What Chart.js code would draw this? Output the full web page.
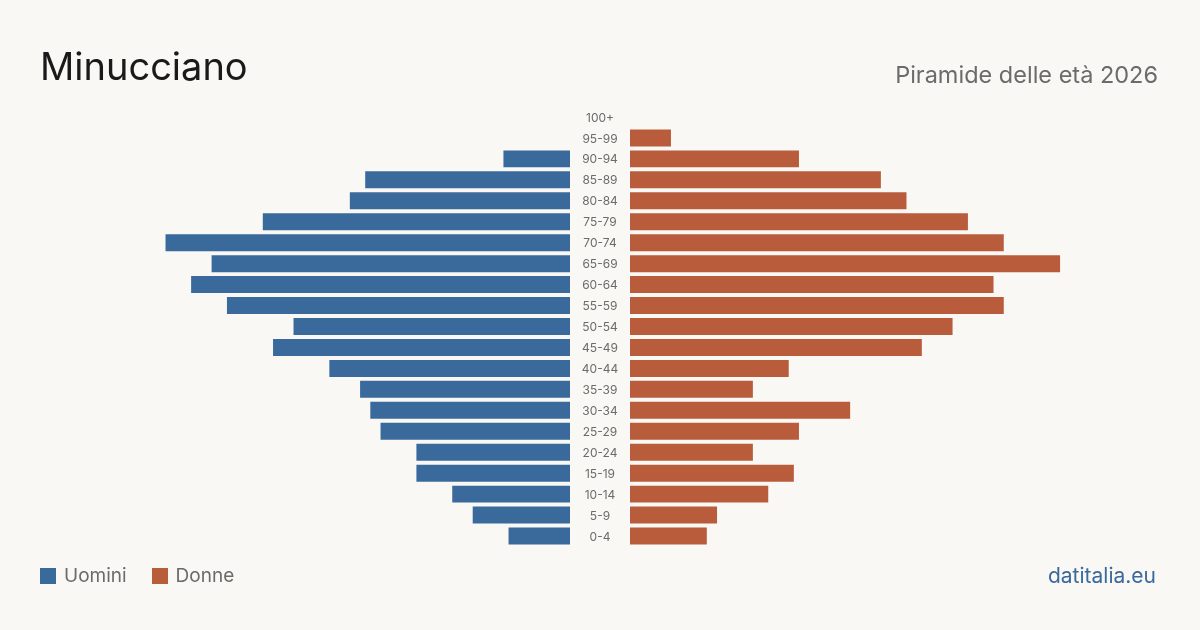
<!DOCTYPE html>
<html>
<head>
<meta charset="utf-8">
<script src="https://cdn.jsdelivr.net/npm/chart.js@4"></script>
<style>
  html, body { margin: 0; padding: 0; }
  body { width: 1200px; height: 630px; background: #f9f8f4; position: relative; overflow: hidden; font-family: Inter, "Noto Sans", sans-serif; }
  #chart { position: absolute; left: 0; top: 0; }
  .title { position: absolute; left: 40px; top: 41px; font-size: 38px; color: #1a1a1a; line-height: 50px; }
  .subtitle { position: absolute; right: 42px; top: 59px; font-size: 23.5px; color: #6b6b6b; line-height: 32px; }
  .legend { position: absolute; left: 40px; top: 562px; font-size: 19px; color: #6b6b6b; line-height: 28px; }
  .legend span.box { display: inline-block; width: 16px; height: 16px; vertical-align: -2px; margin-right: 8px; }
  .legend span.item { margin-right: 25px; }
  .source { position: absolute; right: 44px; top: 561px; font-size: 21px; color: #3a6a9c; line-height: 30px; }
</style>
</head>
<body>
<canvas id="chart" width="1200" height="630"></canvas>
<div class="title">Minucciano</div>
<div class="subtitle">Piramide delle età 2026</div>
<div class="legend"><span class="item"><span class="box" style="background:#3a6a9c"></span>Uomini</span><span class="item"><span class="box" style="background:#b95c3c"></span>Donne</span></div>
<div class="source">datitalia.eu</div>
<script>
const ages = ['100+', '95-99', '90-94', '85-89', '80-84', '75-79', '70-74', '65-69', '60-64', '55-59', '50-54',
    '45-49', '40-44', '35-39', '30-34', '25-29', '20-24', '15-19', '10-14', '5-9', '0-4'];
const uomini = [0, 0, 13, 40, 43, 60, 79, 70, 74, 67, 54, 58, 47, 41, 39, 37, 30, 30, 23, 19, 12];
const donne = [0, 8, 33, 49, 54, 66, 73, 84, 71, 73, 63, 57, 31, 24, 43, 33, 24, 32, 27, 17, 15];

pyramid();
function pyramid() {
    const ctx = document.querySelector('#chart').getContext('2d');
    const half = 109.375;   // 1120px chart area / 5.12 px per person
    const gap = 5.86;       // room for the age labels in the middle

    const centerLabels = {
        id: 'centerLabels',
        afterDatasetsDraw(chart) {
            const c = chart.ctx;
            const xs = chart.scales.x;
            const ys = chart.scales.y;
            c.save();
            c.font = '12px Inter, "Noto Sans", sans-serif';
            c.fillStyle = '#6b6b6b';
            c.textAlign = 'center';
            c.textBaseline = 'middle';
            ages.forEach((a, i) => {
                c.fillText(a, xs.getPixelForValue(0), ys.getPixelForValue(i) + 1);
            });
            c.restore();
        }
    };

    new Chart(ctx, {
        type: 'bar',
        data: {
            labels: ages,
            datasets: [{
                label: 'Uomini',
                data: uomini.map(v => v > 0 ? [-gap - v, -gap] : null),
                backgroundColor: '#3a6a9c'
            }, {
                label: 'Donne',
                data: donne.map(v => v > 0 ? [gap, gap + v] : null),
                backgroundColor: '#b95c3c'
            }]
        },
        options: {
            indexAxis: 'y',
            responsive: false,
            animation: false,
            grouped: false,
            barPercentage: 0.81,
            categoryPercentage: 1,
            layout: { padding: { left: 40, right: 40, top: 106.5, bottom: 83.5 } },
            scales: {
                x: { display: false, min: -half, max: half },
                y: { display: false }
            },
            plugins: {
                legend: { display: false },
                tooltip: { enabled: false }
            }
        },
        plugins: [centerLabels]
    });
}
</script>
</body>
</html>
